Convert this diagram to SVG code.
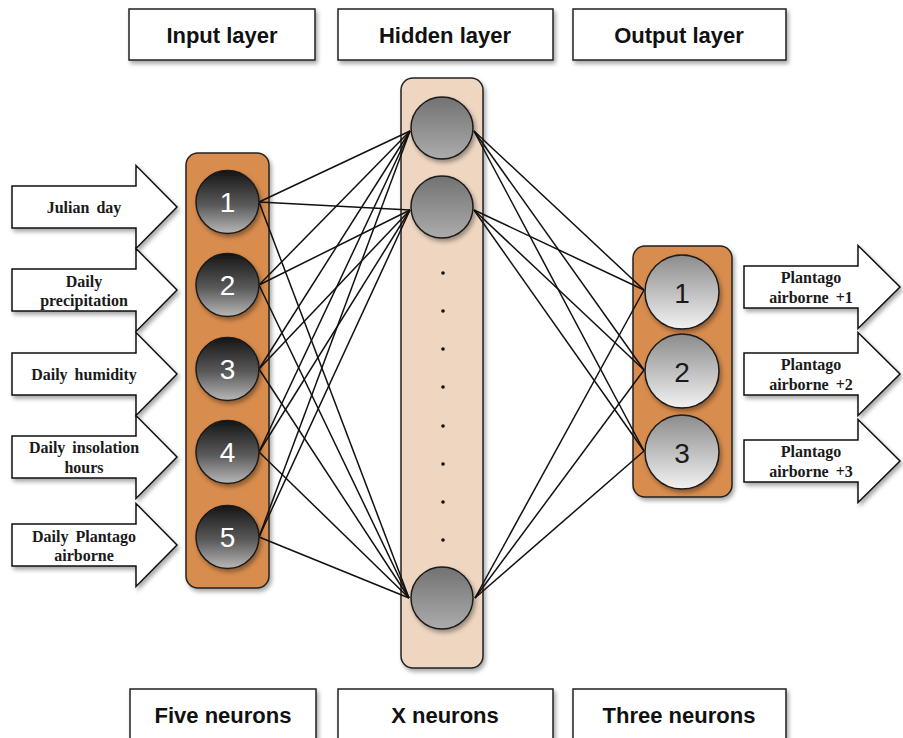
<svg xmlns="http://www.w3.org/2000/svg" width="903" height="738" viewBox="0 0 903 738">
<defs>
<filter id="sh" x="-20%" y="-20%" width="140%" height="140%">
<feDropShadow dx="2" dy="3" stdDeviation="2" flood-color="#000" flood-opacity="0.35"/>
</filter>
<linearGradient id="gIn" x1="0" y1="0" x2="0" y2="1">
<stop offset="0" stop-color="#151515"/>
<stop offset="0.55" stop-color="#5a5a5a"/>
<stop offset="1" stop-color="#b8b8b8"/>
</linearGradient>
<linearGradient id="gHid" x1="0" y1="0" x2="0" y2="1">
<stop offset="0" stop-color="#727272"/>
<stop offset="1" stop-color="#acacac"/>
</linearGradient>
<linearGradient id="gOut" x1="0" y1="0" x2="0" y2="1">
<stop offset="0" stop-color="#8c8c8c"/>
<stop offset="1" stop-color="#f2f2f2"/>
</linearGradient>
</defs>
<style>
.lbl{fill:#fff;stroke:#222;stroke-width:1.5;filter:url(#sh)}
.lt{font-family:"Liberation Sans",Arial,sans-serif;font-weight:bold;font-size:22px;fill:#111;text-anchor:middle}
.arr{fill:#fff;stroke:#111;stroke-width:1.5;filter:url(#sh)}
.at{font-family:"Liberation Serif","Times New Roman",serif;font-weight:bold;font-size:16px;fill:#1a1a1a;text-anchor:middle;word-spacing:3px}
.col{fill:#d88c4e;stroke:#222;stroke-width:1.5;filter:url(#sh)}
.hcol{fill:#eed6c0;stroke:#222;stroke-width:1.5;filter:url(#sh)}
.nin{fill:url(#gIn);stroke:#1a1a1a;stroke-width:1.5;filter:url(#sh)}
.nh{fill:url(#gHid);stroke:#1a1a1a;stroke-width:1.5;filter:url(#sh)}
.no{fill:url(#gOut);stroke:#1a1a1a;stroke-width:1.5;filter:url(#sh)}
.num{font-family:"Liberation Sans",Arial,sans-serif;font-size:28px;text-anchor:middle}
.c line{stroke:#111;stroke-width:1.5}
.dot{fill:#111}
</style>

<g id="label-input-layer"><rect class="lbl" x="129" y="9" width="186" height="51"/><text class="lt" x="222" y="43">Input layer</text></g>
<g id="label-hidden-layer"><rect class="lbl" x="338" y="9" width="215" height="51"/><text class="lt" x="445" y="43">Hidden layer</text></g>
<g id="label-output-layer"><rect class="lbl" x="573" y="9" width="213" height="51"/><text class="lt" x="679" y="43">Output layer</text></g>

<g id="label-five"><rect class="lbl" x="130" y="689" width="186" height="60"/><text class="lt" x="223" y="723">Five neurons</text></g>
<g id="label-x"><rect class="lbl" x="338" y="689" width="215" height="60"/><text class="lt" x="445" y="723">X neurons</text></g>
<g id="label-three"><rect class="lbl" x="573" y="689" width="213" height="60"/><text class="lt" x="679" y="723">Three neurons</text></g>

<g id="input-arrows">
<g id="in-julian"><path class="arr" d="M12,186 H136 V165.5 L177,207 L136,248.5 V228 H12 Z"/><text class="at" x="84" y="213">Julian day</text></g>
<g id="in-precip"><path class="arr" d="M12,269 H136 V248.5 L177,290 L136,331.5 V311 H12 Z"/><text class="at" x="84" y="287">Daily</text><text class="at" x="84" y="306">precipitation</text></g>
<g id="in-humidity"><path class="arr" d="M12,353 H136 V332.5 L177,374 L136,415.5 V395 H12 Z"/><text class="at" x="84" y="380">Daily humidity</text></g>
<g id="in-insolation"><path class="arr" d="M12,436 H136 V415.5 L177,457 L136,498.5 V478 H12 Z"/><text class="at" x="84" y="453">Daily insolation</text><text class="at" x="84" y="473">hours</text></g>
<g id="in-plantago"><path class="arr" d="M12,524 H136 V503.5 L177,545 L136,586.5 V566 H12 Z"/><text class="at" x="84" y="542">Daily Plantago</text><text class="at" x="84" y="561">airborne</text></g>
</g>

<g id="output-arrows">
<g id="out-1"><path class="arr" d="M744,266 H858 V245.5 L900,287 L858,328.5 V308 H744 Z"/><text class="at" x="811" y="283">Plantago</text><text class="at" x="811" y="303">airborne +1</text></g>
<g id="out-2"><path class="arr" d="M744,353 H858 V332.5 L900,374 L858,415.5 V395 H744 Z"/><text class="at" x="811" y="370">Plantago</text><text class="at" x="811" y="390">airborne +2</text></g>
<g id="out-3"><path class="arr" d="M744,440 H858 V419.5 L900,461 L858,502.5 V482 H744 Z"/><text class="at" x="811" y="457">Plantago</text><text class="at" x="811" y="477">airborne +3</text></g>
</g>

<g id="input-layer-column"><rect class="col" x="186" y="153" width="83" height="435" rx="12"/></g>
<g id="hidden-layer-column"><rect class="hcol" x="401" y="78" width="82" height="590" rx="12"/></g>
<g id="output-layer-column"><rect class="col" x="633" y="246" width="99" height="251" rx="12"/></g>

<g id="connectors" class="c">
<line x1="259" y1="202" x2="410" y2="131"/><line x1="259" y1="202" x2="410" y2="210"/><line x1="259" y1="202" x2="409" y2="598"/>
<line x1="259" y1="285" x2="410" y2="131"/><line x1="259" y1="285" x2="410" y2="210"/><line x1="259" y1="285" x2="409" y2="598"/>
<line x1="259" y1="369" x2="410" y2="131"/><line x1="259" y1="369" x2="410" y2="210"/><line x1="259" y1="369" x2="409" y2="598"/>
<line x1="259" y1="452" x2="410" y2="131"/><line x1="259" y1="452" x2="410" y2="210"/><line x1="259" y1="452" x2="409" y2="598"/>
<line x1="259" y1="537" x2="410" y2="131"/><line x1="259" y1="537" x2="410" y2="210"/><line x1="259" y1="537" x2="409" y2="598"/>
<line x1="474" y1="131" x2="644" y2="290"/><line x1="474" y1="131" x2="644" y2="370"/><line x1="474" y1="131" x2="644" y2="451"/>
<line x1="474" y1="210" x2="644" y2="290"/><line x1="474" y1="210" x2="644" y2="370"/><line x1="474" y1="210" x2="644" y2="451"/>
<line x1="475" y1="598" x2="644" y2="290"/><line x1="475" y1="598" x2="644" y2="370"/><line x1="475" y1="598" x2="644" y2="451"/>
</g>

<g id="in-n1"><circle class="nin" cx="227.5" cy="202" r="31.5"/><text class="num" x="227.5" y="212" fill="#fff">1</text></g>
<g id="in-n2"><circle class="nin" cx="227.5" cy="285" r="31.5"/><text class="num" x="227.5" y="295" fill="#fff">2</text></g>
<g id="in-n3"><circle class="nin" cx="227.5" cy="369" r="31.5"/><text class="num" x="227.5" y="379" fill="#fff">3</text></g>
<g id="in-n4"><circle class="nin" cx="227.5" cy="452" r="31.5"/><text class="num" x="227.5" y="462" fill="#fff">4</text></g>
<g id="in-n5"><circle class="nin" cx="227.5" cy="537" r="31.5"/><text class="num" x="227.5" y="547" fill="#fff">5</text></g>

<g id="hid-n1"><circle class="nh" cx="442" cy="128" r="31"/></g>
<g id="hid-n2"><circle class="nh" cx="442" cy="207" r="31"/></g>
<g id="hid-dots">
<circle class="dot" cx="443" cy="273" r="1.8"/><circle class="dot" cx="443" cy="311" r="1.8"/><circle class="dot" cx="443" cy="349" r="1.8"/><circle class="dot" cx="443" cy="387" r="1.8"/><circle class="dot" cx="443" cy="426" r="1.8"/><circle class="dot" cx="443" cy="464" r="1.8"/><circle class="dot" cx="443" cy="502" r="1.8"/><circle class="dot" cx="443" cy="540" r="1.8"/>
</g>
<g id="hid-nx"><circle class="nh" cx="442" cy="598" r="31"/></g>

<g id="out-n1"><circle class="no" cx="682" cy="292" r="37"/><text class="num" x="682" y="303" fill="#1a1a1a" font-size="30">1</text></g>
<g id="out-n2"><circle class="no" cx="682" cy="371" r="37"/><text class="num" x="682" y="382" fill="#1a1a1a" font-size="30">2</text></g>
<g id="out-n3"><circle class="no" cx="682" cy="452" r="37"/><text class="num" x="682" y="463" fill="#1a1a1a" font-size="30">3</text></g>
</svg>
